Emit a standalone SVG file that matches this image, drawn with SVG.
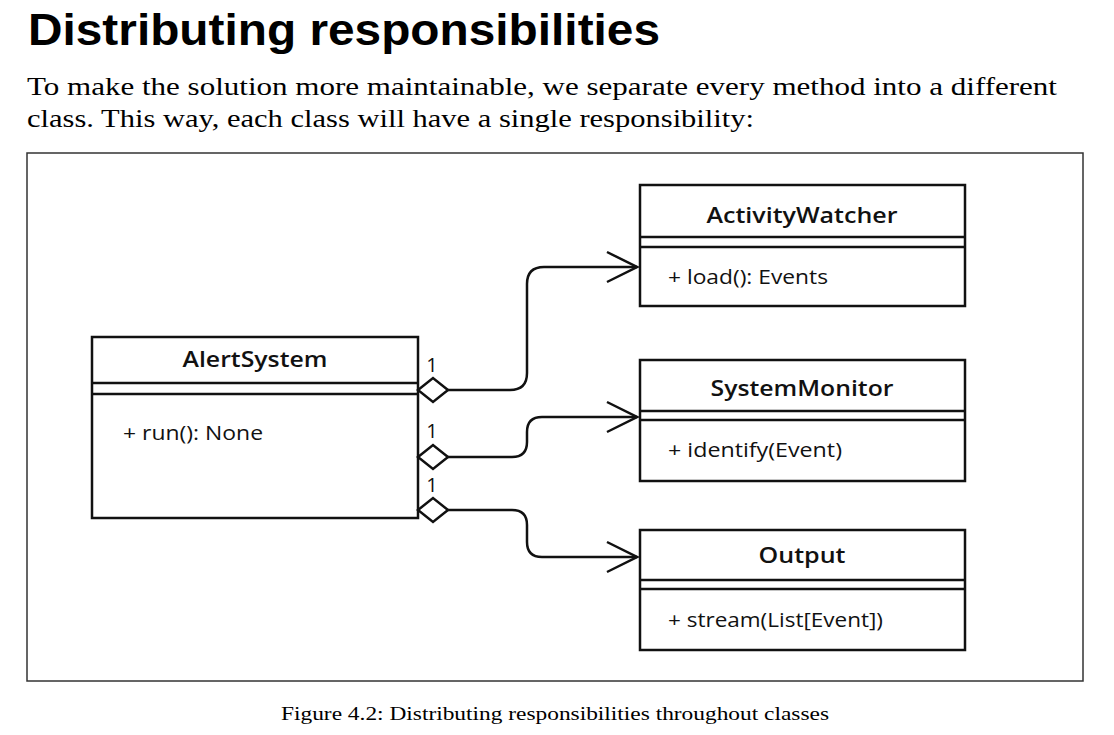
<svg xmlns="http://www.w3.org/2000/svg" width="1114" height="735" viewBox="0 0 1114 735">
<style>
.box{fill:#fff;stroke:#111;stroke-width:2.5}
.sep{stroke:#111;stroke-width:2.5}
.title{font-family:"Open Sans","Noto Sans","DejaVu Sans",sans-serif;font-size:22px;font-weight:600;fill:#111;text-anchor:middle}
.meth{font-family:"Open Sans","Noto Sans","DejaVu Sans",sans-serif;font-size:20px;fill:#111}
.mult{font-family:"Open Sans","Noto Sans","DejaVu Sans",sans-serif;font-size:20px;fill:#111;text-anchor:middle}
.conn{fill:none;stroke:#111;stroke-width:2.5}
</style>
<defs>
<marker id="diamond" markerUnits="userSpaceOnUse" markerWidth="36" markerHeight="30" viewBox="-3 -15 36 30" refX="0" refY="0" orient="auto">
<path d="M0,0 L15,-12 L30,0 L15,12 Z" fill="#fff" stroke="#111" stroke-width="2.5"/>
</marker>
<marker id="open" markerUnits="userSpaceOnUse" markerWidth="36" markerHeight="36" viewBox="-34 -18 36 36" refX="0" refY="0" orient="auto">
<path d="M-30,-15 L0,0 L-30,15" fill="none" stroke="#111" stroke-width="2.5"/>
</marker>
</defs>
<rect width="1114" height="735" fill="#fff"/>
<text x="28" y="45" font-family="'Liberation Sans',Arial,sans-serif" font-weight="bold" font-size="44" fill="#000" textLength="632" lengthAdjust="spacingAndGlyphs">Distributing responsibilities</text>
<text x="27" y="95" font-family="'Liberation Serif','Times New Roman',serif" font-size="26" fill="#000" textLength="1030" lengthAdjust="spacingAndGlyphs">To make the solution more maintainable, we separate every method into a different</text>
<text x="27" y="127" font-family="'Liberation Serif','Times New Roman',serif" font-size="26" fill="#000" textLength="727" lengthAdjust="spacingAndGlyphs">class. This way, each class will have a single responsibility:</text>
<rect x="27" y="153" width="1056" height="528" fill="#fff" stroke="#333" stroke-width="1.5"/>
<g id="AlertSystem">
<rect class="box" x="92" y="337" width="326" height="181"/>
<line class="sep" x1="92" y1="383" x2="418" y2="383"/>
<line class="sep" x1="92" y1="394" x2="418" y2="394"/>
<text class="title" x="255" y="367" textLength="145" lengthAdjust="spacingAndGlyphs">AlertSystem</text>
<text class="meth" x="123" y="440" textLength="140" lengthAdjust="spacingAndGlyphs">+ run(): None</text>
</g>
<g id="ActivityWatcher">
<rect class="box" x="640" y="185" width="325" height="121"/>
<line class="sep" x1="640" y1="237" x2="965" y2="237"/>
<line class="sep" x1="640" y1="247" x2="965" y2="247"/>
<text class="title" x="802" y="223" textLength="191" lengthAdjust="spacingAndGlyphs">ActivityWatcher</text>
<text class="meth" x="668" y="284" textLength="160" lengthAdjust="spacingAndGlyphs">+ load(): Events</text>
</g>
<g id="SystemMonitor">
<rect class="box" x="640" y="360" width="325" height="121"/>
<line class="sep" x1="640" y1="411" x2="965" y2="411"/>
<line class="sep" x1="640" y1="420" x2="965" y2="420"/>
<text class="title" x="802" y="396" textLength="183" lengthAdjust="spacingAndGlyphs">SystemMonitor</text>
<text class="meth" x="668" y="457" textLength="174" lengthAdjust="spacingAndGlyphs">+ identify(Event)</text>
</g>
<g id="Output">
<rect class="box" x="640" y="530" width="325" height="120"/>
<line class="sep" x1="640" y1="580" x2="965" y2="580"/>
<line class="sep" x1="640" y1="589" x2="965" y2="589"/>
<text class="title" x="802" y="563" textLength="87" lengthAdjust="spacingAndGlyphs">Output</text>
<text class="meth" x="668" y="627" textLength="215" lengthAdjust="spacingAndGlyphs">+ stream(List[Event])</text>
</g>
<g id="connectors">
<path class="conn" d="M418,390 H510 Q527,390 527,373 V284 Q527,267 544,267 H637" marker-start="url(#diamond)" marker-end="url(#open)"/>
<path class="conn" d="M418,457 H512 Q527,457 527,442 V432 Q527,417 542,417 H637" marker-start="url(#diamond)" marker-end="url(#open)"/>
<path class="conn" d="M418,510 H512 Q527,510 527,525 V542 Q527,557 542,557 H637" marker-start="url(#diamond)" marker-end="url(#open)"/>
<text class="mult" x="432" y="372">1</text>
<text class="mult" x="432" y="438">1</text>
<text class="mult" x="432" y="492">1</text>
</g>
<text x="281" y="720" font-family="'Liberation Serif','Times New Roman',serif" font-size="19" fill="#000" textLength="548" lengthAdjust="spacingAndGlyphs">Figure 4.2: Distributing responsibilities throughout classes</text>
</svg>
